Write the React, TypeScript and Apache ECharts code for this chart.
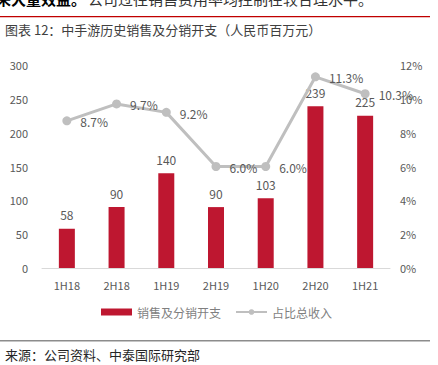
import React, { useEffect, useRef } from "react";
import * as echarts from "echarts";

const categories = ["1H18", "2H18", "1H19", "2H19", "1H20", "2H20", "1H21"];
const expenses = [58, 90, 140, 90, 103, 239, 225];
const ratio = [8.7, 9.7, 9.2, 6.0, 6.0, 11.3, 10.3];
const seriesNames = ["销售及分销开支", "占比总收入"];
const titleText = "图表 12：中手游历史销售及分销开支（人民币百万元）";
const sourceText = "来源：公司资料、中泰国际研究部";
const topBold = "来大量效益。";
const topRest = "公司过往销售费用率均控制在较合理水平。";

export default function App() {
  const ref = useRef<HTMLDivElement>(null);
  useEffect(() => {
    const chart = echarts.init(ref.current!, null, { renderer: "svg" });
    const font = "'Noto Sans CJK SC', sans-serif";
    chart.setOption({
      animation: false,
      backgroundColor: "#ffffff",
      textStyle: { fontFamily: font },
      grid: { left: 42, right: 48, top: 65, bottom: 97 },
      legend: {
        bottom: 42,
        left: 96,
        itemGap: 14,
        textStyle: { color: "#7f7f7f", fontSize: 12, fontFamily: font },
        data: [
          { name: seriesNames[0], icon: "rect", itemStyle: { color: "#BE1730" } },
          { name: seriesNames[1] },
        ],
        itemWidth: 31,
        itemHeight: 7,
      },
      xAxis: {
        type: "category",
        data: categories,
        axisLine: { lineStyle: { color: "#d9d9d9", width: 1 } },
        axisTick: { show: false },
        axisLabel: { color: "#595959", fontSize: 11, margin: 11, fontFamily: font },
      },
      yAxis: [
        {
          type: "value",
          min: 0,
          max: 300,
          interval: 50,
          splitLine: { show: false },
          axisLine: { show: false },
          axisTick: { show: false },
          axisLabel: { color: "#595959", fontSize: 11, margin: 14, fontFamily: font },
        },
        {
          type: "value",
          min: 0,
          max: 12,
          interval: 2,
          splitLine: { show: false },
          axisLine: { show: false },
          axisTick: { show: false },
          axisLabel: { color: "#595959", fontSize: 11, margin: 10, formatter: "{value}%", fontFamily: font },
        },
      ],
      series: [
        {
          name: seriesNames[0],
          type: "bar",
          data: expenses,
          barWidth: 16,
          itemStyle: { color: "#BE1730" },
          label: { show: true, position: "top", distance: 8, color: "#595959", fontSize: 12, fontFamily: font },
        },
        {
          name: seriesNames[1],
          type: "line",
          yAxisIndex: 1,
          data: ratio,
          symbol: "circle",
          symbolSize: 9,
          lineStyle: { color: "#BFBFBF", width: 3 },
          itemStyle: { color: "#BFBFBF" },
          label: {
            show: true,
            position: "right",
            distance: 9,
            offset: [0, 1],
            color: "#595959",
            fontSize: 12,
            fontFamily: font,
            formatter: (p: any) => p.value.toFixed(1) + "%",
          },
        },
      ],
      graphic: [
        {
          type: "text",
          left: -4,
          top: -9,
          style: { text: topBold, font: "bold 15px " + font, fill: "#000" },
        },
        {
          type: "text",
          left: 88,
          top: -9,
          style: { text: topRest, font: "15px " + font, fill: "#333" },
        },
        { type: "rect", shape: { x: 0, y: 16, width: 430, height: 1.2 }, style: { fill: "#C00000" } },
        {
          type: "text",
          left: 5,
          top: 23,
          style: { text: titleText, font: "13px " + font, fill: "#404040" },
        },
        { type: "rect", shape: { x: 0, y: 340, width: 430, height: 1.5 }, style: { fill: "#8c8c8c" } },
        {
          type: "text",
          left: 5,
          top: 348,
          style: { text: sourceText, font: "13px " + font, fill: "#262626" },
        },
      ],
    });
    return () => chart.dispose();
  }, []);
  return <div ref={ref} style={{ width: 438, height: 365, position: "absolute", left: 0, top: 0 }} />;
}
